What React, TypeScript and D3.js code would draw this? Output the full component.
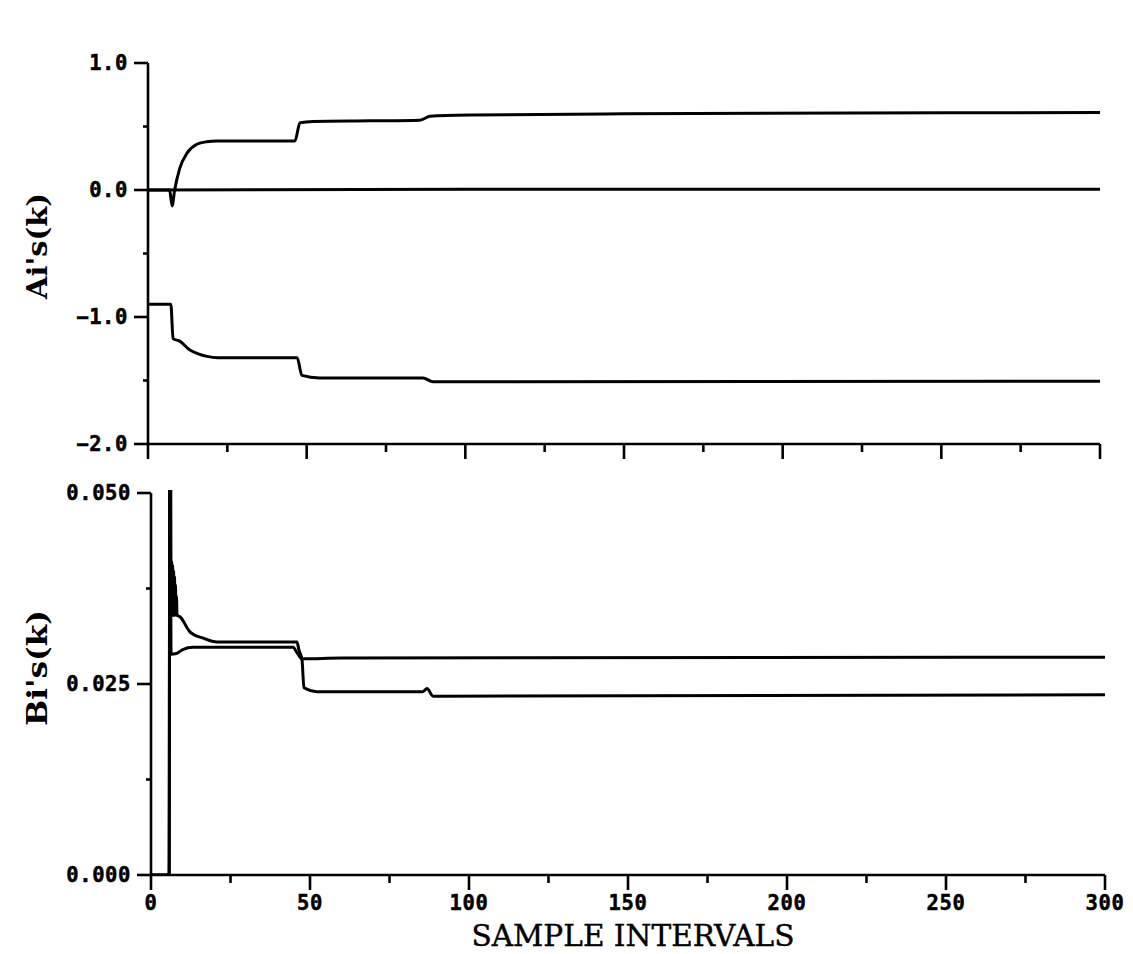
import React from 'react';
import * as d3 from 'd3';

// ---------- data ----------
const xMajorTicks = [0, 50, 100, 150, 200, 250, 300];
const xMinorTicks = [25, 75, 125, 175, 225, 275];

const aTickValues = [1.0, 0.0, -1.0, -2.0];
const aTickLabels = ['1.0', '0.0', '\u22121.0', '\u22122.0'];
const aMinorTicks = [0.5, -0.5, -1.5];

const bTickValues = [0.05, 0.025, 0.0];
const bTickLabels = ['0.050', '0.025', '0.000'];
const bMinorTicks = [0.0375, 0.0125];

// Ai's(k) series: [k, value]
const a1Series: [number, number][] = [
  [0, 0], [6.8, 0], [7.6, -0.125], [8.4, 0.0], [10, 0.17], [12.3, 0.29], [15.4, 0.36],
  [18.5, 0.38], [21.7, 0.386], [46.3, 0.386], [47.9, 0.53], [52, 0.54], [70, 0.545],
  [85.7, 0.55], [88.9, 0.58], [101.5, 0.59], [150, 0.6], [300, 0.61],
];
const a2Series: [number, number][] = [
  [0, 0], [100, 0.005], [200, 0.005], [300, 0.005],
];
const a3Series: [number, number][] = [
  [0, -0.9], [7.2, -0.9], [7.9, -1.17], [10, -1.19], [13.2, -1.26], [15.8, -1.29],
  [18.6, -1.31], [22, -1.32], [47, -1.32], [48.5, -1.46], [54, -1.48], [86.7, -1.48],
  [89.8, -1.51], [300, -1.505],
];

// Bi's(k) series: [k, value]  (dense oscillation right after the spike at k = 6)
const b1Series: [number, number][] = [
  [0, 0], [5.7, 0], [6, 0.1], [6.2, 0.0412], [6.35, 0.034], [6.5, 0.041], [6.65, 0.034],
  [6.8, 0.0405], [6.95, 0.034], [7.1, 0.0398], [7.25, 0.034], [7.4, 0.039], [7.55, 0.034],
  [7.7, 0.038], [7.85, 0.034], [8.0, 0.0365], [8.2, 0.034], [9.1, 0.0338], [12.3, 0.0318],
  [16.4, 0.031], [20.8, 0.0305], [45.9, 0.0305], [46.5, 0.0295], [47.5, 0.0281],
  [48.1, 0.0245], [52.2, 0.024], [85.5, 0.024], [86.8, 0.0244], [88.7, 0.0234],
  [300, 0.0236],
];
const b2Series: [number, number][] = [
  [0, 0], [5.7, 0], [6, 0.1], [6.3, 0.0289], [8, 0.029], [10, 0.0295], [13.2, 0.0298],
  [44.7, 0.0298], [45.9, 0.0291], [47.5, 0.0283], [60, 0.0284], [300, 0.0285],
];

// ---------- layout ----------
const W = 1133;
const H = 954;

const xTop = d3.scaleLinear().domain([0, 300]).range([148, 1100]);
const yTop = d3.scaleLinear().domain([-2, 1]).range([444, 63]);
const xBot = d3.scaleLinear().domain([0, 300]).range([151, 1105]);
const yBot = d3.scaleLinear().domain([0, 0.05]).range([875, 493]);

const tickFont = "'DejaVu Sans Mono', monospace";
const ink = '#000';

function TickText(props: any) {
  return (
    <text
      fontFamily={tickFont}
      fontWeight="bold"
      fontSize={20.5}
      letterSpacing={0.6}
      fill={ink}
      stroke={ink}
      strokeWidth={0.5}
      {...props}
    />
  );
}

function Panel({ x, y, yTicks, yLabels, yMinor, data, clipId, showXLabels }: any) {
  const line = d3
    .line<[number, number]>()
    .x((d) => x(d[0]))
    .y((d) => y(d[1]))
    .curve(d3.curveMonotoneX);
  const [x0, x1] = x.range();
  const [yb, yt] = y.range();
  return (
    <g>
      <defs>
        <clipPath id={clipId}>
          <rect x={x0} y={yt - 3} width={x1 - x0 + 2} height={yb - yt + 4} />
        </clipPath>
      </defs>
      {/* y axis */}
      <line x1={x0} x2={x0} y1={yt} y2={yb} stroke={ink} strokeWidth={2.6} />
      {yTicks.map((v: number, i: number) => (
        <g key={'yt' + i}>
          <line x1={x0 - 14} x2={x0} y1={y(v)} y2={y(v)} stroke={ink} strokeWidth={2.6} />
          <TickText x={x0 - 20} y={y(v)} dy="0.36em" textAnchor="end">
            {yLabels[i]}
          </TickText>
        </g>
      ))}
      {yMinor.map((v: number, i: number) => (
        <line key={'ym' + i} x1={x0 - 5} x2={x0} y1={y(v)} y2={y(v)} stroke={ink} strokeWidth={2.6} />
      ))}
      {/* x axis */}
      <line x1={x0} x2={x1} y1={yb} y2={yb} stroke={ink} strokeWidth={2.6} />
      {xMajorTicks.map((v, i) => (
        <g key={'xt' + i}>
          <line x1={x(v)} x2={x(v)} y1={yb} y2={yb + 15} stroke={ink} strokeWidth={2.6} />
          {showXLabels && (
            <TickText x={x(v)} y={yb + 35} textAnchor="middle">
              {String(v)}
            </TickText>
          )}
        </g>
      ))}
      {xMinorTicks.map((v, i) => (
        <line key={'xm' + i} x1={x(v)} x2={x(v)} y1={yb} y2={yb + 8} stroke={ink} strokeWidth={2.6} />
      ))}
      {/* series */}
      <g clipPath={`url(#${clipId})`}>
        {data.map((s: [number, number][], i: number) => (
          <path
            key={'s' + i}
            d={line(s) || ''}
            fill="none"
            stroke={ink}
            strokeWidth={3}
            strokeLinejoin="round"
          />
        ))}
      </g>
    </g>
  );
}

export default function App() {
  return (
    <svg
      width={W}
      height={H}
      viewBox={`0 0 ${W} ${H}`}
      style={{ position: 'absolute', left: 0, top: 0, background: '#fff' }}
    >
      <rect x={0} y={0} width={W} height={H} fill="#fff" />
      <Panel
        x={xTop}
        y={yTop}
        yTicks={aTickValues}
        yLabels={aTickLabels}
        yMinor={aMinorTicks}
        data={[a1Series, a2Series, a3Series]}
        clipId="clipTop"
        showXLabels={false}
      />
      <Panel
        x={xBot}
        y={yBot}
        yTicks={bTickValues}
        yLabels={bTickLabels}
        yMinor={bMinorTicks}
        data={[b1Series, b2Series]}
        clipId="clipBot"
        showXLabels={true}
      />
      <text
        transform="translate(47,246) rotate(-90)"
        textAnchor="middle"
        fontFamily="'DejaVu Serif', serif"
        fontWeight="bold"
        fontSize={27}
        textLength={106}
        lengthAdjust="spacingAndGlyphs"
        fill={ink}
      >
        Ai's(k)
      </text>
      <text
        transform="translate(47,668) rotate(-90)"
        textAnchor="middle"
        fontFamily="'DejaVu Serif', serif"
        fontWeight="bold"
        fontSize={27}
        textLength={116}
        lengthAdjust="spacingAndGlyphs"
        fill={ink}
      >
        Bi's(k)
      </text>
      <text
        x={633}
        y={946}
        textAnchor="middle"
        fontFamily="'DejaVu Serif', serif"
        fontSize={30}
        textLength={323}
        lengthAdjust="spacingAndGlyphs"
        fill={ink}
        stroke={ink}
        strokeWidth={0.4}
      >
        SAMPLE INTERVALS
      </text>
    </svg>
  );
}
